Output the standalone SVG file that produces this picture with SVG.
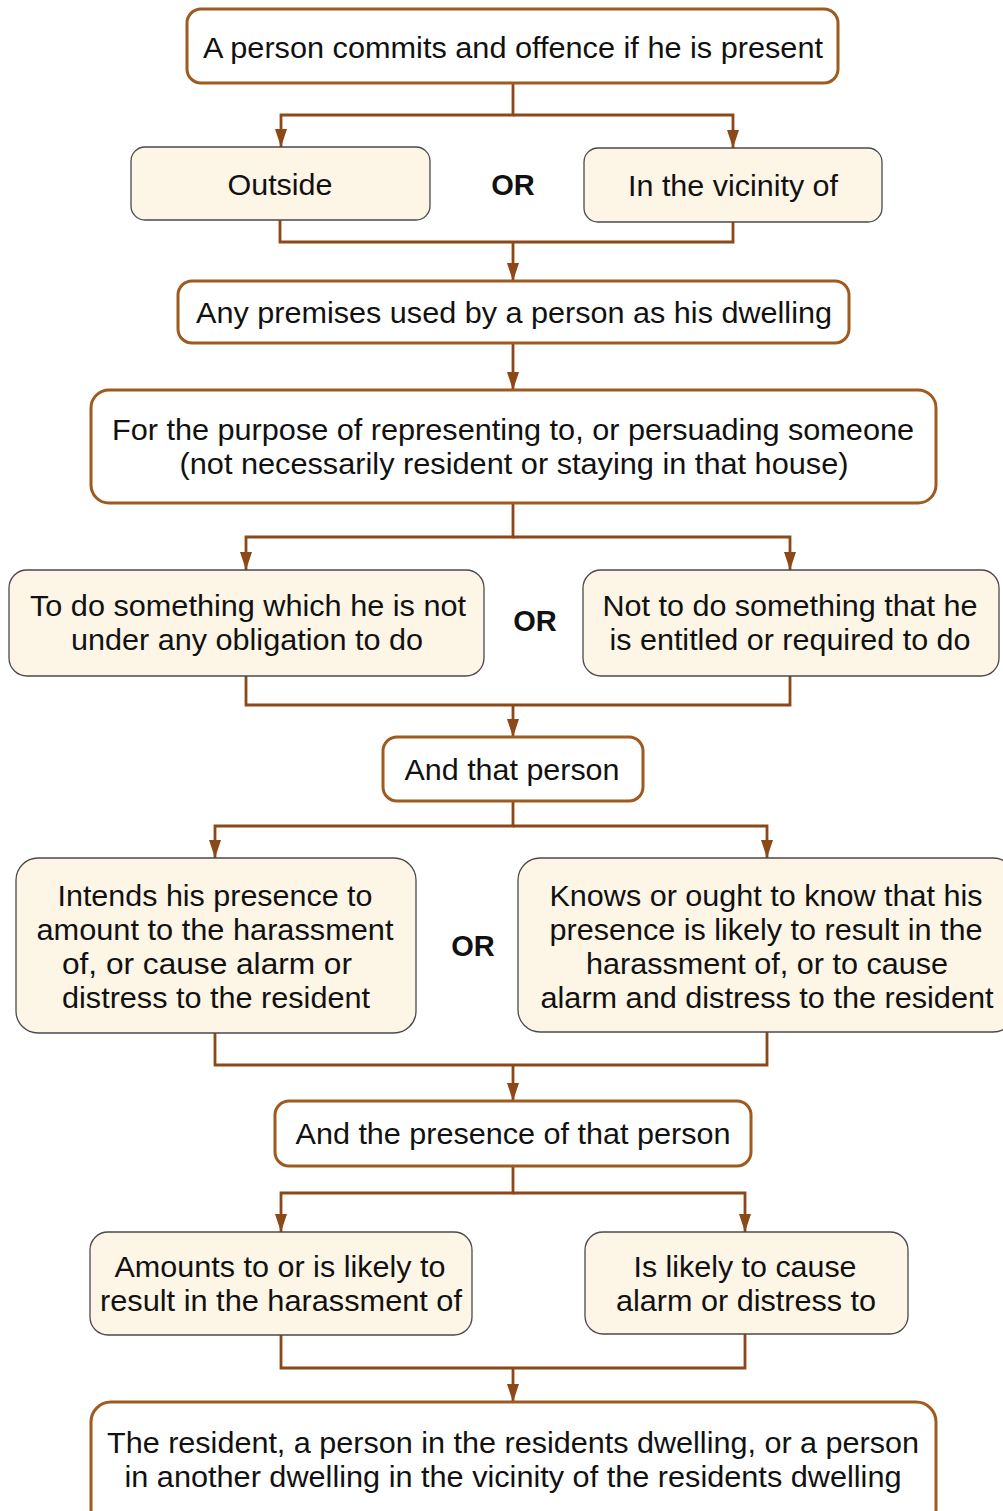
<svg xmlns="http://www.w3.org/2000/svg" width="1003" height="1511" viewBox="0 0 1003 1511">
<style>
.main{fill:#ffffff;stroke:#9e5a1f;stroke-width:3}
.alt{fill:#fdf5e6;stroke:#4a4a4a;stroke-width:1.3}
.t{font-family:"Liberation Sans",Arial,sans-serif;font-size:29px;fill:#111;text-anchor:middle}
.b{font-weight:bold}
.c{fill:none;stroke:#8c4816;stroke-width:2.8}
</style>
<defs>
<marker id="ah" markerUnits="userSpaceOnUse" markerWidth="18" markerHeight="12" viewBox="0 0 18 12" refX="18" refY="6" orient="auto">
<path d="M0,0 L18,6 L0,12 z" fill="#8c4816"/>
</marker>
</defs>
<rect width="1003" height="1511" fill="#fff"/>
<g id="connectors">
<path class="c" d="M513,84 V115 H281 V147" marker-end="url(#ah)"/>
<path class="c" d="M513,115 H733 V148" marker-end="url(#ah)"/>
<path class="c" d="M280,220 V242 H733 V222"/>
<path class="c" d="M513,242 V281" marker-end="url(#ah)"/>
<path class="c" d="M513,343 V390" marker-end="url(#ah)"/>
<path class="c" d="M513,503 V537 H246 V570" marker-end="url(#ah)"/>
<path class="c" d="M513,537 H790 V570" marker-end="url(#ah)"/>
<path class="c" d="M246,676 V705 H790 V676"/>
<path class="c" d="M513,705 V737" marker-end="url(#ah)"/>
<path class="c" d="M513,801 V826 H215 V858" marker-end="url(#ah)"/>
<path class="c" d="M513,826 H767 V858" marker-end="url(#ah)"/>
<path class="c" d="M215,1033 V1065 H767 V1032"/>
<path class="c" d="M513,1065 V1101" marker-end="url(#ah)"/>
<path class="c" d="M513,1166 V1193 H281 V1232" marker-end="url(#ah)"/>
<path class="c" d="M513,1193 H745 V1232" marker-end="url(#ah)"/>
<path class="c" d="M281,1335 V1368 H745 V1334"/>
<path class="c" d="M513,1368 V1402" marker-end="url(#ah)"/>
</g>
<g id="n1"><rect class="main" x="187" y="9" width="651" height="74" rx="14"/>
<text class="t" x="513" y="58" textLength="620" lengthAdjust="spacingAndGlyphs">A person commits and offence if he is present</text></g>
<g id="n2"><rect class="alt" x="131" y="147" width="299" height="73" rx="14"/>
<text class="t" x="280" y="195" textLength="105" lengthAdjust="spacingAndGlyphs">Outside</text></g>
<g id="or1"><text class="t b" x="513" y="195">OR</text></g>
<g id="n3"><rect class="alt" x="584" y="148" width="298" height="74" rx="14"/>
<text class="t" x="733" y="196" textLength="210" lengthAdjust="spacingAndGlyphs">In the vicinity of</text></g>
<g id="n4"><rect class="main" x="178" y="281" width="671" height="62" rx="14"/>
<text class="t" x="514" y="323" textLength="636" lengthAdjust="spacingAndGlyphs">Any premises used by a person as his dwelling</text></g>
<g id="n5"><rect class="main" x="91" y="390" width="845" height="113" rx="18"/>
<text class="t" x="513" y="440" textLength="802" lengthAdjust="spacingAndGlyphs">For the purpose of representing to, or persuading someone</text>
<text class="t" x="514" y="474" textLength="669" lengthAdjust="spacingAndGlyphs">(not necessarily resident or staying in that house)</text></g>
<g id="n6"><rect class="alt" x="9" y="570" width="475" height="106" rx="18"/>
<text class="t" x="248" y="616" textLength="436" lengthAdjust="spacingAndGlyphs">To do something which he is not</text>
<text class="t" x="247" y="650" textLength="352" lengthAdjust="spacingAndGlyphs">under any obligation to do</text></g>
<g id="or2"><text class="t b" x="535" y="631">OR</text></g>
<g id="n7"><rect class="alt" x="583" y="570" width="416" height="106" rx="18"/>
<text class="t" x="790" y="616" textLength="375" lengthAdjust="spacingAndGlyphs">Not to do something that he</text>
<text class="t" x="790" y="650" textLength="361" lengthAdjust="spacingAndGlyphs">is entitled or required to do</text></g>
<g id="n8"><rect class="main" x="383" y="737" width="260" height="64" rx="14"/>
<text class="t" x="512" y="780" textLength="215" lengthAdjust="spacingAndGlyphs">And that person</text></g>
<g id="n9"><rect class="alt" x="16" y="858" width="400" height="175" rx="22"/>
<text class="t" x="215" y="906" textLength="315" lengthAdjust="spacingAndGlyphs">Intends his presence to</text>
<text class="t" x="215" y="940" textLength="357" lengthAdjust="spacingAndGlyphs">amount to the harassment</text>
<text class="t" x="207" y="974" textLength="290" lengthAdjust="spacingAndGlyphs">of, or cause alarm or</text>
<text class="t" x="216" y="1008" textLength="308" lengthAdjust="spacingAndGlyphs">distress to the resident</text></g>
<g id="or3"><text class="t b" x="473" y="956">OR</text></g>
<g id="n10"><rect class="alt" x="518" y="858" width="497" height="174" rx="22"/>
<text class="t" x="766" y="906" textLength="433" lengthAdjust="spacingAndGlyphs">Knows or ought to know that his</text>
<text class="t" x="766" y="940" textLength="433" lengthAdjust="spacingAndGlyphs">presence is likely to result in the</text>
<text class="t" x="767" y="974" textLength="362" lengthAdjust="spacingAndGlyphs">harassment of, or to cause</text>
<text class="t" x="767" y="1008" textLength="453" lengthAdjust="spacingAndGlyphs">alarm and distress to the resident</text></g>
<g id="n11"><rect class="main" x="275" y="1101" width="476" height="65" rx="14"/>
<text class="t" x="513" y="1144" textLength="435" lengthAdjust="spacingAndGlyphs">And the presence of that person</text></g>
<g id="n12"><rect class="alt" x="90" y="1232" width="382" height="103" rx="18"/>
<text class="t" x="280" y="1277" textLength="331" lengthAdjust="spacingAndGlyphs">Amounts to or is likely to</text>
<text class="t" x="281" y="1311" textLength="362" lengthAdjust="spacingAndGlyphs">result in the harassment of</text></g>
<g id="n13"><rect class="alt" x="585" y="1232" width="323" height="102" rx="18"/>
<text class="t" x="745" y="1277" textLength="223" lengthAdjust="spacingAndGlyphs">Is likely to cause</text>
<text class="t" x="746" y="1311" textLength="260" lengthAdjust="spacingAndGlyphs">alarm or distress to</text></g>
<g id="n14"><rect class="main" x="91" y="1402" width="845" height="130" rx="20"/>
<text class="t" x="513" y="1453" textLength="812" lengthAdjust="spacingAndGlyphs">The resident, a person in the residents dwelling, or a person</text>
<text class="t" x="513" y="1487" textLength="777" lengthAdjust="spacingAndGlyphs">in another dwelling in the vicinity of the residents dwelling</text></g>
</svg>
